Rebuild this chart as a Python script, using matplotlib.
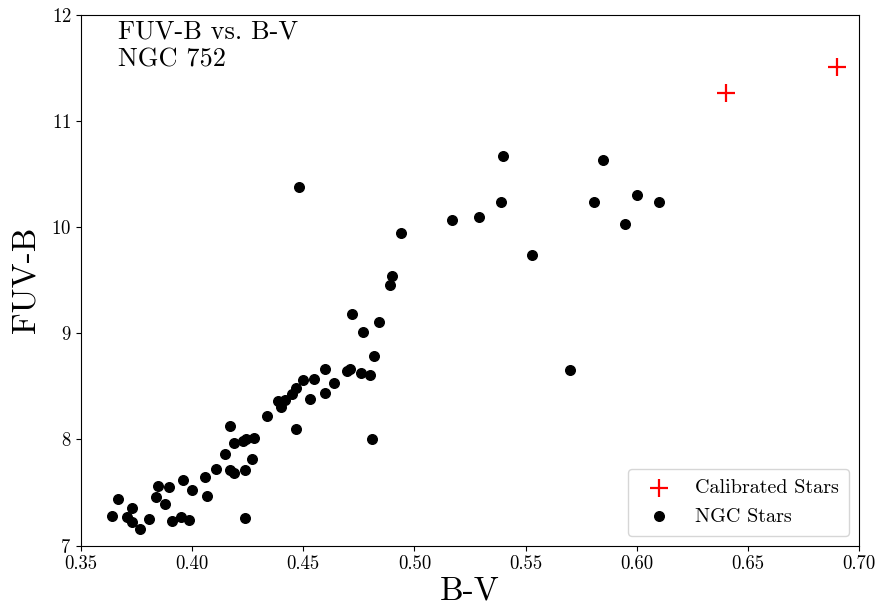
import matplotlib
matplotlib.use("Agg")
import matplotlib.pyplot as plt


# =========================
# DATA
# =========================
ngc_bv = [
    0.3638, 0.3668, 0.3728, 0.3708, 0.3728, 0.3767, 0.3807, 0.3848, 0.3839, 0.3878,
    0.3897, 0.3908, 0.3948, 0.3987, 0.3959, 0.3999, 0.4058, 0.4068, 0.4107, 0.4148,
    0.4169, 0.4187, 0.4169, 0.4188, 0.4230, 0.4241, 0.4278, 0.4268, 0.4239, 0.4239,
    0.4338, 0.4388, 0.4398, 0.4419, 0.4451, 0.4469, 0.4467, 0.4500, 0.4530, 0.4548,
    0.4599, 0.4599, 0.4638, 0.4697, 0.4710, 0.4718, 0.4758, 0.4769, 0.4800, 0.4808,
    0.4820, 0.4839, 0.4889, 0.4899, 0.4940, 0.5169, 0.5289, 0.5389, 0.5400, 0.5529,
    0.5698, 0.5809, 0.5850, 0.5949, 0.6000, 0.6100, 0.4479,
]
ngc_fuvb = [
    7.28, 7.44, 7.35, 7.27, 7.22, 7.16, 7.25, 7.56, 7.46, 7.39,
    7.55, 7.23, 7.27, 7.24, 7.62, 7.52, 7.65, 7.47, 7.72, 7.86,
    8.13, 7.97, 7.71, 7.68, 7.99, 8.00, 8.01, 7.82, 7.71, 7.26,
    8.22, 8.36, 8.31, 8.37, 8.43, 8.48, 8.10, 8.56, 8.38, 8.57,
    8.66, 8.44, 8.53, 8.64, 8.66, 9.18, 8.63, 9.01, 8.61, 8.00,
    8.79, 9.11, 9.45, 9.54, 9.94, 10.07, 10.09, 10.24, 10.67, 9.74,
    8.65, 10.24, 10.63, 10.03, 10.30, 10.24, 10.38,
]

calib_bv = [0.64, 0.69]
calib_fuvb = [11.26, 11.51]


# =========================
# STYLE
# =========================
plt.rcParams["font.family"] = ["cmr10", "DejaVu Serif"]
plt.rcParams["mathtext.fontset"] = "cm"
plt.rcParams["axes.formatter.use_mathtext"] = True


# =========================
# PLOT
# =========================
fig = plt.figure(figsize=(8.76, 6.09), dpi=100)
ax = fig.add_axes([0.0925, 0.104, 0.888, 0.872])

ax.scatter(calib_bv, calib_fuvb, marker="+", s=160, color="red",
           linewidths=1.6, label="Calibrated Stars", zorder=3)
ax.scatter(ngc_bv, ngc_fuvb, marker="o", s=48, color="black",
           label="NGC Stars", zorder=2)

ax.set_xlim(0.35, 0.70)
ax.set_ylim(7, 12)
ax.set_xticks([0.35, 0.40, 0.45, 0.50, 0.55, 0.60, 0.65, 0.70])
ax.set_xticklabels(["0.35", "0.40", "0.45", "0.50", "0.55", "0.60", "0.65", "0.70"])
ax.tick_params(labelsize=13.5)

ax.set_xlabel("B-V", fontsize=24, labelpad=2)
ax.set_ylabel("FUV-B", fontsize=24, labelpad=8)

ax.text(0.048, 0.99, "FUV-B vs. B-V\nNGC 752", transform=ax.transAxes,
        fontsize=19, va="top", ha="left", linespacing=1.2)

ax.legend(loc="lower right", fontsize=14.5, framealpha=0.8, borderpad=0.5)

fig.savefig("out.png", dpi=100)
